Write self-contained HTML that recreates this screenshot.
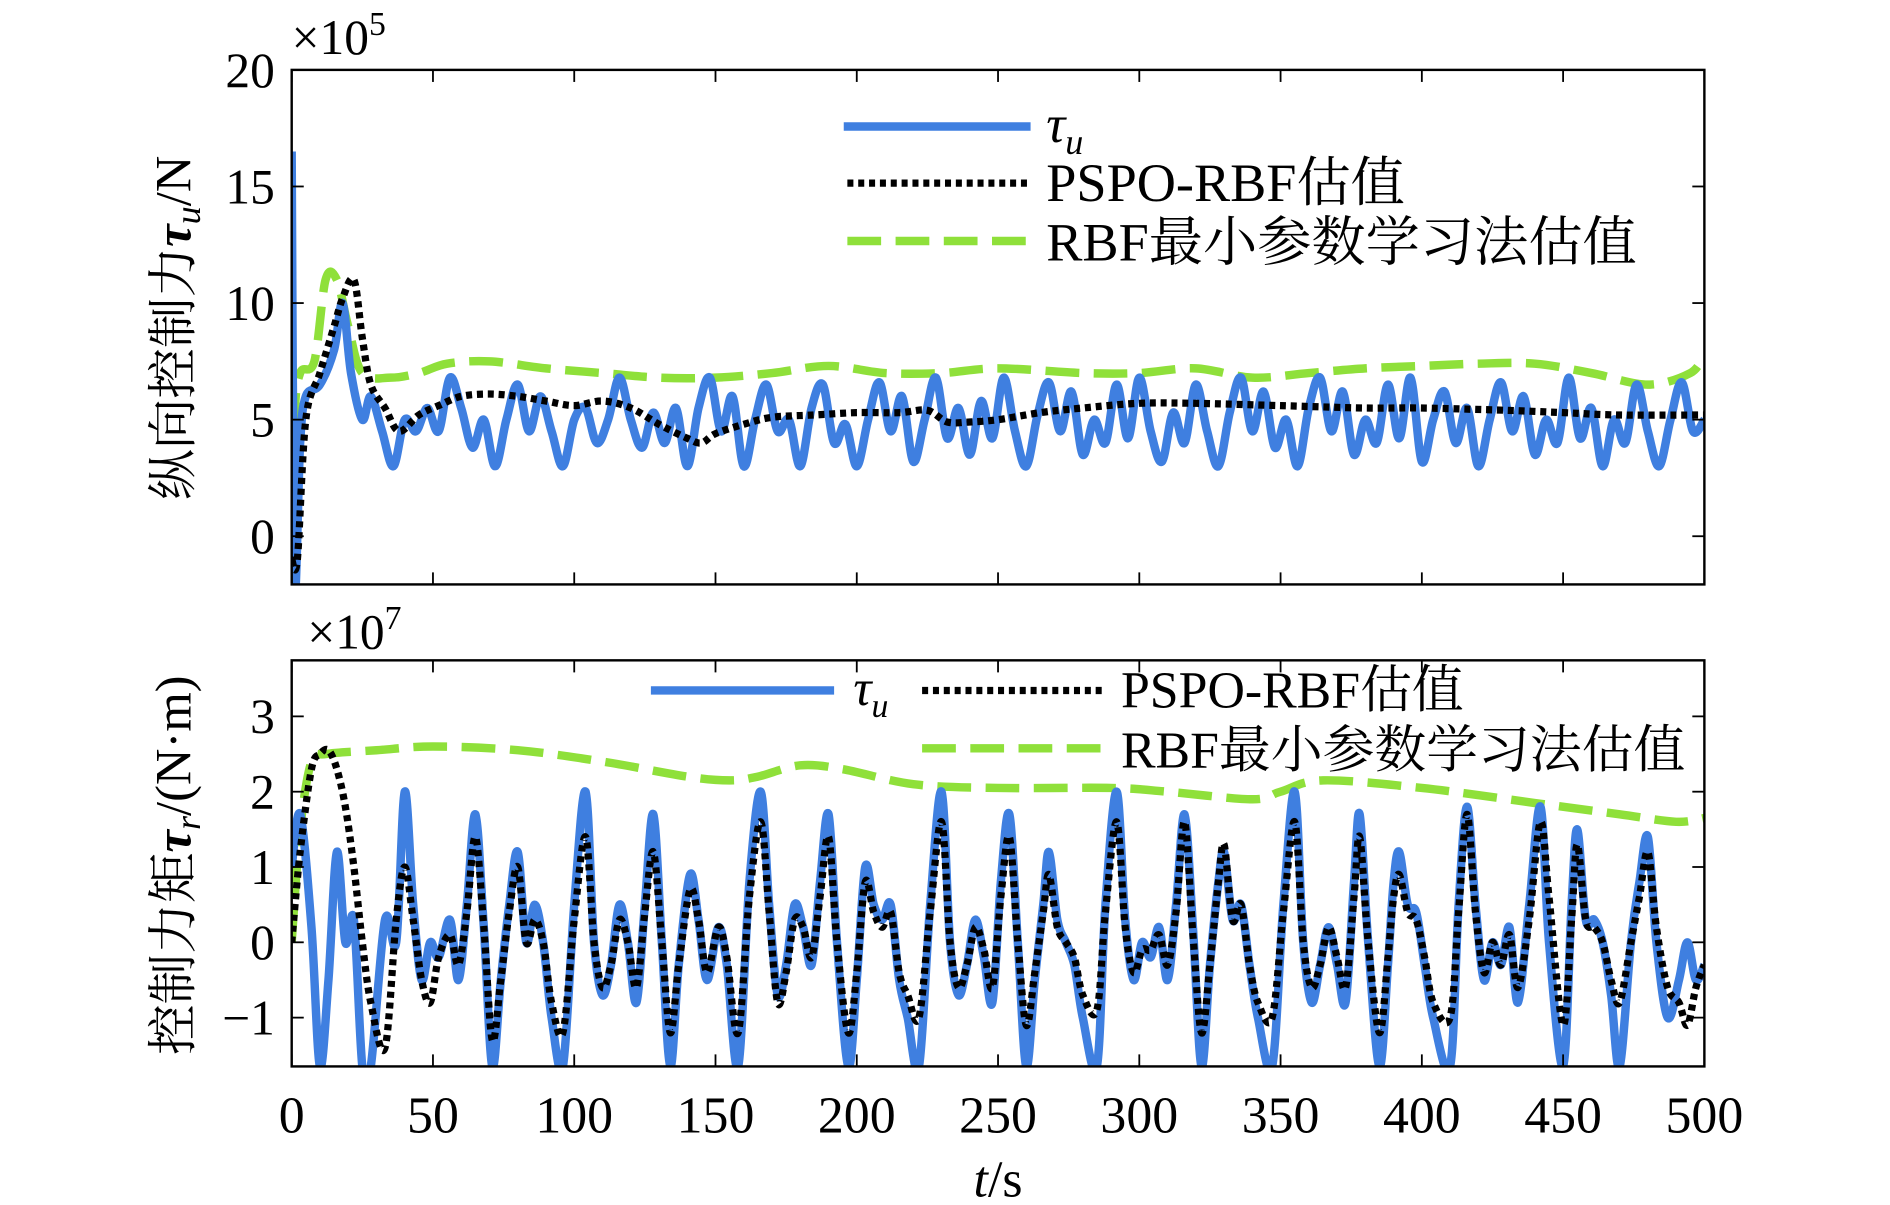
<!DOCTYPE html>
<html><head><meta charset="utf-8">
<style>
html,body{margin:0;padding:0;background:#fff;}
svg{display:block;}
text{font-family:"Liberation Serif","Noto Serif CJK SC","Noto Sans CJK SC",serif;fill:#000;}
</style></head>
<body>
<svg id="chart" width="1890" height="1205" viewBox="0 0 1568 1000" preserveAspectRatio="none" xmlns="http://www.w3.org/2000/svg">
<defs>
<clipPath id="clipTop"><rect x="242" y="58" width="1172" height="427"/></clipPath>
<clipPath id="clipBot"><rect x="242" y="548" width="1172" height="337"/></clipPath>
</defs>
<g id="topPlot"></g>
<g id="botPlot"></g>
</svg>
<script>
// ---- Top chart data (x10^5 N) ----
const tTopBlue = [0,1,3,5,10,15,18,21,25,28,32,36,40,44,48,52,56,60,64,68,72,76,80,84,88,92,96,100,104,108,112,116,120,124,128,132,136,140,144,148,152,156,160,164,168,172,176,180,184,188,192,196,200,204,208,212,216,220,224,228,232,236,240,244,248,252,256,260,264,268,272,276,280,284,288,292,296,300,304,308,312,316,320,324,328,332,336,340,344,348,352,356,360,364,368,372,376,380,384,388,392,396,400,404,408,412,416,420,424,428,432,436,440,444,448,452,456,460,464,468,472,476,480,484,488,492,496,500];
const topBlue = [16.5,-2,4,6,6.5,8,10,7,5,6,4.5,3,5,4.5,5.5,4.5,6.8,5.5,3.8,5,3,5,6.5,4.5,6,4.5,3,5,5.5,4,5,6.8,5,3.8,5.3,4,5.5,3,5.5,6.8,4.5,6,3,5,6.5,4.5,5,3,5.5,6.5,4,4.8,3,5,6.6,4.5,6,3.2,5,6.8,4.2,5.5,3.5,5.8,4.2,6.8,4.5,3,5.2,6.6,4.5,6.2,3.5,5,4,6.5,4.2,6.8,4.5,3.2,5.3,4,6.5,4.5,3,5.3,6.8,4.5,6.2,3.8,5,3,5.5,6.8,4.5,6.2,3.5,5,4,6.5,4.2,6.8,3.2,5,6.2,4,5.5,3,5,6.6,4.5,6,3.5,5,4,6.8,4.2,5.5,3,5,4,6.5,4.5,3,5,6.6,4.5,5,6.8,5];
const tTopBlack = [0,2,5,10,15,18,22,25,28,33,38,45,52,60,70,80,90,100,110,120,130,140,145,150,160,170,185,200,215,225,232,240,250,265,280,300,320,350,380,400,430,450,470,500];
const topBlack = [-1,-1,5,7,9,10.2,11,8.5,6.5,5.5,4.5,5.2,5.6,6,6.1,6,5.8,5.6,5.8,5.5,4.8,4.2,4,4.4,4.8,5.1,5.2,5.3,5.3,5.4,4.9,4.9,5,5.3,5.5,5.7,5.7,5.6,5.5,5.5,5.4,5.3,5.2,5.2];
const tTopGreen = [0,1,3,8,12,16,20,25,35,45,55,70,90,110,130,150,170,190,210,230,250,280,300,320,340,360,380,400,420,440,460,480,495,500];
const topGreen = [-1.5,5,7,7.5,11,11,9,7,6.8,7,7.4,7.5,7.2,7,6.8,6.8,7,7.3,7,7,7.2,7,7,7.2,6.8,7,7.2,7.3,7.4,7.4,7,6.5,7,7.8];
const topYTicks = [0,5,10,15,20];
const topYLabels = ["0","5","10","15","20"];

// ---- Bottom chart data (x10^7 N·m) ----
const tBot = [0,3,7,10,13,16,19,22,25,28,33,37,40,43,46,49,52,56,59,62,65,68,71,74,77,80,83,86,89,92,96,100,104,107,110,113,116,119,122,125,128,131,134,137,141,144,147,151,154,158,162,166,169,172,175,178,181,184,187,190,193,197,200,203,206,209,212,215,218,222,226,230,233,236,239,242,245,248,251,254,257,260,263,266,268,271,274,277,280,285,288,292,295,298,301,304,307,310,313,316,319,322,325,328,330,333,336,339,342,347,351,355,358,361,364,367,370,373,376,378,381,385,388,390,392,395,398,401,404,410,413,416,419,422,425,428,431,434,438,442,445,450,453,455,458,461,464,467,470,474,477,480,483,487,491,494,497,500];
const botBlue = [1.0,1.7,0.2,-1.65,-0.5,1.2,0,0.3,-1.65,-1.65,0.3,0,2,0.5,-0.5,0,-0.2,0.3,-0.5,0.5,1.7,0.2,-1.65,-0.5,0.5,1.2,0,0.5,0,-1,-1.65,0.5,2,0,-0.7,-0.3,0.5,0,-0.8,0.5,1.7,0,-1.65,-0.3,0.9,0.3,-0.5,0.2,-0.3,-1.65,0.8,2,0.5,-0.7,-0.3,0.5,0.2,-0.3,0.8,1.7,0,-1.65,-0.5,1.0,0.5,0.3,0.5,-0.5,-1,-1.65,0.5,2,0,-0.7,-0.3,0.3,-0.2,-0.8,0.8,1.7,0,-1.65,-0.5,0.5,1.2,0.3,0,-0.3,-1,-1.65,0.5,2,0.3,-0.5,0,-0.2,0.2,-0.5,0.5,1.7,0.2,-1.65,-0.3,0.8,1.2,0.3,0.5,-0.3,-1,-1.65,0.5,2,0,-0.8,-0.3,0.2,-0.3,-0.8,0.8,1.7,0,-1.65,-0.3,0.8,1.2,0.5,0.4,-0.3,-1,-1.65,0.5,1.8,0.5,-0.5,0,-0.3,0.2,-0.8,0.5,1.8,0,-1.65,0.5,1.5,0.3,0.3,0,-0.7,-1.65,0,0.8,1.4,0,-1.0,-0.5,0,-0.5,-0.3];
const botBlack = [0,1.2,2.3,2.5,2.55,2.3,1.8,1.0,0,-0.8,-1.4,0.3,1.0,0.3,-0.5,-0.8,-0.2,0.1,-0.3,0.4,1.4,0.2,-1.3,-0.5,0.4,1.0,0,0.3,0,-0.8,-1.2,0.3,1.4,0,-0.6,-0.3,0.3,0,-0.6,0.4,1.2,0,-1.2,-0.3,0.7,0.3,-0.4,0.2,-0.2,-1.2,0.6,1.6,0.4,-0.8,-0.4,0.3,0.2,-0.2,0.6,1.4,0,-1.2,-0.4,0.8,0.4,0.2,0.4,-0.4,-0.7,-1.0,0.4,1.6,0,-0.6,-0.3,0.2,-0.1,-0.6,0.6,1.4,0,-1.1,-0.4,0.4,0.9,0.2,0,-0.2,-0.7,-0.9,0.4,1.6,0.2,-0.4,-0.1,-0.1,0.1,-0.3,0.4,1.6,0.1,-1.2,-0.3,0.8,1.3,0.3,0.5,-0.3,-0.8,-1.0,0.4,1.6,0,-0.6,-0.3,0.2,-0.2,-0.6,0.6,1.4,0,-1.2,-0.2,0.6,0.9,0.4,0.3,-0.2,-0.8,-1.0,0.4,1.7,0.4,-0.4,0,-0.3,0.1,-0.6,0.3,1.6,0.6,-1.1,0.3,1.3,0.3,0.2,0,-0.5,-0.8,0,0.6,1.2,0.2,-0.6,-0.8,-1.1,-0.6,-0.3];
const tBotGreen = [0,3,7,12,30,50,80,110,140,155,165,180,195,220,250,290,310,340,350,365,400,440,470,490,500];
const botGreen = [0,1.5,2.4,2.5,2.55,2.6,2.55,2.4,2.2,2.15,2.2,2.35,2.3,2.1,2.05,2.05,2.0,1.9,2.0,2.15,2.05,1.85,1.7,1.6,1.65];
const botYTicks = [-1,0,1,2,3];
const botYLabels = ["\u22121","0","1","2","3"];

const xTicks = [0,50,100,150,200,250,300,350,400,450,500];
const xLabels = ["0","50","100","150","200","250","300","350","400","450","500"];

const NS = "http://www.w3.org/2000/svg";
const X0 = 242, X1 = 1414;
function xs(t){ return X0 + (t/500)*(X1-X0); }
function ysTop(v){ return 445 - v*(445-58)/20; }
function ysBot(v){ return 782 - v*62.5; }

function mk(tag, attrs, parent){
  const e = document.createElementNS(NS, tag);
  for (const k in attrs) e.setAttribute(k, attrs[k]);
  parent.appendChild(e); return e;
}
function smoothPath(ts, vs, ys){
  const p = ts.map((t,i)=>[xs(t), ys(vs[i])]);
  let d = "M"+p[0][0].toFixed(1)+","+p[0][1].toFixed(1);
  for (let i=0;i<p.length-1;i++){
    const p0=p[i-1]||p[i], p1=p[i], p2=p[i+1], p3=p[i+2]||p[i+1];
    const c1=[p1[0]+(p2[0]-p0[0])/6, p1[1]+(p2[1]-p0[1])/6];
    const c2=[p2[0]-(p3[0]-p1[0])/6, p2[1]-(p3[1]-p1[1])/6];
    d += "C"+c1[0].toFixed(1)+","+c1[1].toFixed(1)+" "+c2[0].toFixed(1)+","+c2[1].toFixed(1)+" "+p2[0].toFixed(1)+","+p2[1].toFixed(1);
  }
  return d;
}
const BLUE="#3f7fe0", GREEN="#8fe03a";
const styles = {
  blue:{stroke:BLUE,"stroke-width":7,fill:"none"},
  black:{stroke:"#000","stroke-width":6,fill:"none","stroke-dasharray":"5,4"},
  green:{stroke:GREEN,"stroke-width":7,fill:"none","stroke-dasharray":"28,12"}
};

function axes(g, top, bottom, yTicks, yLabels, ys, showX){
  for (let i=0;i<yTicks.length;i++){
    const y = ys(yTicks[i]);
    mk("line",{x1:X0,x2:X0+10,y1:y,y2:y,stroke:"#000","stroke-width":1.5},g);
    mk("line",{x1:X1,x2:X1-10,y1:y,y2:y,stroke:"#000","stroke-width":1.5},g);
    const tx = mk("text",{x:228,y:y+14,"text-anchor":"end","font-size":41},g);
    
    
    tx.textContent = yLabels[i];
  }
  for (let i=0;i<xTicks.length;i++){
    const x = xs(xTicks[i]);
    mk("line",{x1:x,x2:x,y1:bottom,y2:bottom-10,stroke:"#000","stroke-width":1.5},g);
    mk("line",{x1:x,x2:x,y1:top,y2:top+10,stroke:"#000","stroke-width":1.5},g);
    if (showX){
      const tx = mk("text",{x:x,y:940,"text-anchor":"middle","font-size":43},g);
      
      
      tx.textContent = xLabels[i];
    }
  }
  const r = mk("rect",{x:X0,y:top,width:X1-X0,height:bottom-top,fill:"none",stroke:"#000","stroke-width":2},g);
  
  
}
function series(g, clip, ts, vs, ys, st, name){
  const p = mk("path", Object.assign({d:smoothPath(ts,vs,ys),"clip-path":"url(#"+clip+")","stroke-linejoin":"round"}, st), g);
  
  
}
function legendLine(g,x1,x2,y,st,name){
  const l = mk("line",Object.assign({x1:x1,x2:x2,y1:y,y2:y},st),g);
  
  
}
function label(g,x,y,html,size,name,extra){
  const t = mk("text",Object.assign({x:x,y:y,"font-size":size},extra||{}),g);
  t.innerHTML = html;
  
  
  return t;
}

// Top
const gT = document.getElementById("topPlot");
series(gT,"clipTop",tTopGreen,topGreen,ysTop,styles.green,"rbf-estimate-line-top");
series(gT,"clipTop",tTopBlue,topBlue,ysTop,styles.blue,"tau-u-line");
series(gT,"clipTop",tTopBlack,topBlack,ysTop,styles.black,"pspo-rbf-line-top");
axes(gT,58,485,topYTicks,topYLabels,ysTop,false);
label(gT,242,45,'×10<tspan dy="-16" font-size="28">5</tspan>',41,"top-exponent");
legendLine(gT,700,855,105,styles.blue,"legend-tau-u-swatch");
label(gT,868,118,'<tspan font-style="italic">τ</tspan><tspan dy="10" font-size="30" font-style="italic">u</tspan>',44,"legend-tau-u");
legendLine(gT,703,855,152,styles.black,"legend-pspo-swatch");
label(gT,868,167,'PSPO-RBF估值',45,"legend-pspo");
legendLine(gT,703,855,200,styles.green,"legend-rbf-swatch");
label(gT,868,216,'RBF最小参数学习法估值',45,"legend-rbf");
label(gT,0,0,'纵向控制力<tspan font-style="italic" font-weight="bold">τ</tspan><tspan dy="8" font-size="30" font-style="italic">u</tspan><tspan dy="-8">/N</tspan>',42,"top-y-axis-title",{transform:"translate(158,272) rotate(-90)","text-anchor":"middle"});

// Bottom
const gB = document.getElementById("botPlot");
series(gB,"clipBot",tBotGreen,botGreen,ysBot,styles.green,"rbf-estimate-line-bottom");
series(gB,"clipBot",tBot,botBlue,ysBot,styles.blue,"tau-r-line");
series(gB,"clipBot",tBot,botBlack,ysBot,styles.black,"pspo-rbf-line-bottom");
axes(gB,548,885,botYTicks,botYLabels,ysBot,true);
label(gB,255,538,'×10<tspan dy="-16" font-size="28">7</tspan>',41,"bottom-exponent");
legendLine(gB,540,692,573,styles.blue,"legend-tau-swatch-bottom");
label(gB,708,585,'<tspan font-style="italic">τ</tspan><tspan dy="10" font-size="28" font-style="italic">u</tspan>',42,"legend-tau-bottom");
legendLine(gB,765,915,573,styles.black,"legend-pspo-swatch-bottom");
label(gB,930,587,'PSPO-RBF估值',43,"legend-pspo-bottom");
legendLine(gB,765,915,621,styles.green,"legend-rbf-swatch-bottom");
label(gB,930,637,'RBF最小参数学习法估值',43,"legend-rbf-bottom");
label(gB,0,0,'控制力矩<tspan font-style="italic" font-weight="bold">τ</tspan><tspan dy="8" font-size="30" font-style="italic">r</tspan><tspan dy="-8">/(N·m)</tspan>',42,"bottom-y-axis-title",{transform:"translate(158,718) rotate(-90)","text-anchor":"middle"});
label(gB,828,993,'<tspan font-style="italic">t</tspan>/s',43,"x-axis-title",{"text-anchor":"middle"});
</script>
</body></html>
